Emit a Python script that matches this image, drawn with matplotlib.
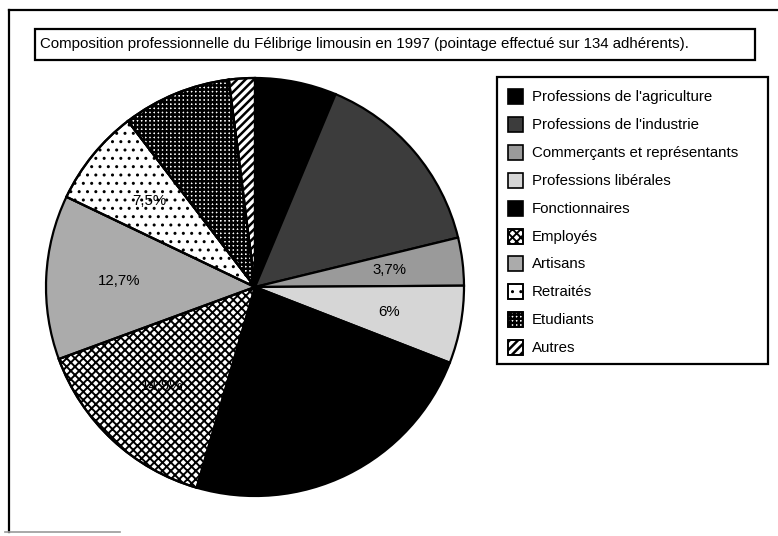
import matplotlib
matplotlib.use("Agg")
import matplotlib.pyplot as plt
from matplotlib.patches import Rectangle, Wedge
import numpy as np

plt.rcParams['font.family'] = ['Liberation Sans', 'DejaVu Sans']

## Data (share of the 134 members, %)
categories = ["Professions de l'agriculture", "Professions de l'industrie",
              "Commerçants et représentants", "Professions libérales",
              "Fonctionnaires", "Employés", "Artisans", "Retraités",
              "Etudiants", "Autres"]
shares = [6.3, 14.9, 3.7, 6.0, 23.6, 14.9, 12.7, 7.5, 8.4, 2.0]
shown_labels = [False, False, True, True, False, True, True, True, False, False]
title = ("Composition professionnelle du Félibrige limousin en 1997 "
         "(pointage effectué sur 134 adhérents).")

## Fill style per slice: face colour, hatch, hatch line width
faces = ["black", "#3c3c3c", "#9a9a9a", "#d6d6d6", "black",
         "white", "#ababab", "white", "white", "white"]
hatches = [None, None, None, None, None, "xxxx", None, "..", "++++", "////"]
hatch_lw = [1, 1, 1, 1, 1, 1.4, 1, 1.0, 1.8, 1.8]

W, H = 778, 536
fig = plt.figure(figsize=(W / 100, H / 100), dpi=100)
ax = fig.add_axes([0, 0, 1, 1])

def py(y):
    # pixel row from top -> data y
    return H - y

def hatched(patch_cls, args, h, lw):
    # hatch overlay, hatch line width set per patch
    with plt.rc_context({'hatch.linewidth': lw}):
        p = patch_cls(*args, facecolor="none", edgecolor="black",
                      linewidth=0, hatch=h)
    if hasattr(p, "set_hatch_linewidth"):
        p.set_hatch_linewidth(lw)
    return p

## pie
cx, cy, r = 255, py(287), 209
wedges, texts = ax.pie(shares, center=(cx, cy), radius=r, startangle=90,
                       counterclock=False, colors=faces,
                       wedgeprops=dict(edgecolor="black", linewidth=1.6),
                       frame=False)
ax.set_xlim(0, W)
ax.set_ylim(0, H)
ax.set_aspect("equal")
ax.axis("off")

for w, h, hl in zip(wedges, hatches, hatch_lw):
    if h is None:
        continue
    ax.add_patch(hatched(Wedge, (w.center, w.r, w.theta1, w.theta2), h, hl))
    ax.add_patch(Wedge(w.center, w.r, w.theta1, w.theta2, fill=False,
                       edgecolor="black", linewidth=1.6))

for w, val, show in zip(wedges, shares, shown_labels):
    if not show:
        continue
    mid = np.deg2rad((w.theta1 + w.theta2) / 2)
    lx = cx + 0.65 * r * np.cos(mid)
    ly = cy + 0.65 * r * np.sin(mid)
    txt = ("%g" % val).replace(".", ",") + "%"
    ax.text(lx, ly, txt, fontsize=10.8, ha="center", va="center", color="black")

## outer frame (top and left edges only, as in the scan)
ax.plot([9, W], [py(10), py(10)], color="black", lw=1.6)
ax.plot([9, 9], [py(10), py(532)], color="black", lw=1.6)
ax.plot([5, 120], [py(532), py(532)], color="#999999", lw=1.2)

## title box
ax.add_patch(Rectangle((35, py(60)), 720, 31, fill=False, ec="black", lw=1.6))
ax.text(40, py(44), title, fontsize=10.8, va="center", ha="left")

## legend box
ax.add_patch(Rectangle((497, py(364)), 271, 287, fill=False, ec="black", lw=1.6))
row_y = 97
for name, fc, h, hl in zip(categories, faces, hatches, hatch_lw):
    xy = (508, py(row_y + 7))
    ax.add_patch(Rectangle(xy, 15, 15, facecolor=fc, edgecolor="black", lw=1.2))
    if h is not None:
        ax.add_patch(hatched(Rectangle, (xy, 15, 15), h, hl))
        ax.add_patch(Rectangle(xy, 15, 15, fill=False, edgecolor="black", lw=1.2))
    ax.text(532, py(row_y), name, fontsize=10.8, va="center", ha="left")
    row_y += 27.9

fig.savefig("out.png", dpi=100, facecolor="white")
